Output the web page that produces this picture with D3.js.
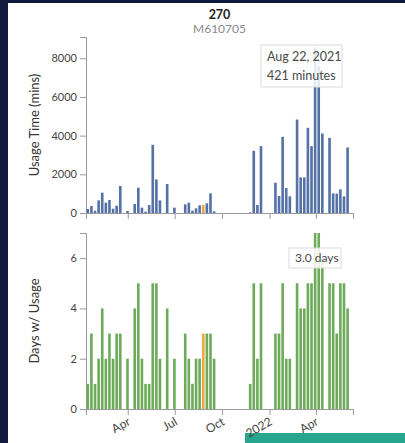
<!DOCTYPE html>
<html>
<head>
<meta charset="utf-8">
<script src="https://cdn.jsdelivr.net/npm/d3@7"></script>
<style>
  body { margin: 0; background: #0f1a3c; }
  svg { display: block; font-family: Lato, "Open Sans", sans-serif; }
  .axis path, .axis line { stroke: #9a9a9a; }
  .axis text { fill: #444; font-size: 11px; font-family: Lato, sans-serif; }
</style>
</head>
<body>
<div id="chart"></div>
<script>
// weekly buckets (weeks start on Sunday)
var firstWeek = new Date(2021, 0, 10);
var lastWeek = new Date(2022, 4, 29);
var weeks = d3.timeWeek.range(firstWeek, d3.timeDay.offset(lastWeek, 1));

// minutes of usage per week
var usageMins = [
  206, 361, 120, 653, 1050, 533, 671, 224, 378, 1393,
  0, 103, 0, 464, 1307, 275, 69, 413, 3525, 1737,
  653, 0, 1497, 0, 275, 0, 0, 447, 533, 120,
  241, 396, 421, 498, 1015, 86, 0, 0, 0, 0,
  0, 0, 0, 0, 0, 30, 3215, 413, 3457, 0,
  0, 0, 1565, 877, 3939, 1290, 860, 0, 4833, 1840,
  1840, 4403, 3457, 8560, 7600, 4110, 0, 3888, 1015, 1000,
  1222, 860, 3388
];
// days with usage per week
var daysUsed = [
  1, 3, 1, 2, 4, 2, 3, 2, 3, 3,
  0, 2, 0, 4, 5, 2, 1, 1, 5, 5,
  2, 0, 4, 0, 2, 0, 0, 3, 2, 1,
  2, 2, 3, 3, 3, 2, 0, 0, 0, 0,
  0, 0, 0, 0, 0, 1, 5, 2, 5, 0,
  0, 0, 3, 3, 5, 2, 2, 0, 5, 4,
  4, 5, 5, 7, 7, 6, 0, 5, 5, 3,
  5, 5, 4
];
var usageTicks = [0, 2000, 4000, 6000, 8000];
var dayTicks = [0, 2, 4, 6];
var usageMax = 9100, daysMax = 7;
var selected = 32; // hovered week
var title = "270", subtitle = "M610705";

var data = weeks.map(function(d, i) {
  return {date: d, mins: usageMins[i], days: daysUsed[i]};
});

var W = 405, H = 443;
var margin = {left: 86, right: 52};
var width = W - margin.left - margin.right;
var plotH = 176;
var topY = 37, botY = 233;

var svg = d3.select("#chart").append("svg")
  .attr("width", W).attr("height", H);

// page background
svg.append("rect").attr("x", 8).attr("y", 3).attr("width", W - 8).attr("height", H - 3).attr("fill", "#ffffff");
svg.append("rect").attr("x", 245).attr("y", 433).attr("width", 160).attr("height", 10).attr("fill", "#27a68d");

// title
svg.append("text").attr("x", margin.left + width / 2).attr("y", 19)
  .attr("text-anchor", "middle").attr("font-size", 12.5).attr("font-weight", "bold").attr("fill", "#222")
  .text(title);
svg.append("text").attr("x", margin.left + width / 2).attr("y", 33)
  .attr("text-anchor", "middle").attr("font-size", 12).attr("fill", "#8a8a8a")
  .text(subtitle);

var x = d3.scaleTime()
  .domain([firstWeek, d3.timeWeek.offset(lastWeek, 2)])
  .range([0, width]);
var xTicks = x.ticks(d3.timeMonth.every(3));
var fmtTick = function(d) { return d.getMonth() === 0 ? d3.timeFormat("%Y")(d) : d3.timeFormat("%b")(d); };

function barWidth(d) { return x(d3.timeWeek.offset(d.date, 1)) - x(d.date) - 1; }

// ---- usage time panel
var g1 = svg.append("g").attr("transform", "translate(" + margin.left + "," + topY + ")");
var y1 = d3.scaleLinear().domain([0, usageMax]).range([plotH, 0]);

g1.append("g").attr("class", "axis")
  .attr("transform", "translate(0," + plotH + ")")
  .call(d3.axisBottom(x).tickValues(xTicks).tickFormat(""));
g1.append("g").attr("class", "axis")
  .call(d3.axisLeft(y1).tickValues(usageTicks).tickFormat(d3.format("d")));

g1.selectAll(".bar")
  .data(data)
  .enter()
  .append("rect")
  .attr("x", function(d) { return x(d.date) + 0.5; })
  .attr("y", function(d) { return y1(d.mins); })
  .attr("width", barWidth)
  .attr("height", function(d) { return plotH - y1(d.mins); })
  .attr("fill", function(d, i) { return i === selected ? "#f2a541" : "#5571a6"; });

svg.append("text")
  .attr("transform", "translate(38.5," + (topY + plotH / 2) + ") rotate(-90)")
  .attr("text-anchor", "middle").attr("font-size", 13).attr("fill", "#333")
  .text("Usage Time (mins)");

// tooltip top
var tip1 = g1.append("g").attr("transform", "translate(" + (width - 92) + ",8)");
tip1.append("rect").attr("width", 81).attr("height", 42)
  .attr("fill", "rgba(255,255,255,0.85)").attr("stroke", "#dcdcdc");
tip1.append("text").attr("x", 6).attr("y", 16).attr("font-size", 12.5).attr("fill", "#4a4a4a")
  .text(d3.timeFormat("%b %d, %Y")(data[selected].date));
tip1.append("text").attr("x", 6).attr("y", 35).attr("font-size", 12.5).attr("fill", "#4a4a4a")
  .text(data[selected].mins + " minutes");

// ---- days with usage panel
var g2 = svg.append("g").attr("transform", "translate(" + margin.left + "," + botY + ")");
var y2 = d3.scaleLinear().domain([0, daysMax]).range([plotH, 0]);

g2.append("g").attr("class", "axis")
  .attr("transform", "translate(0," + plotH + ")")
  .call(d3.axisBottom(x).tickValues(xTicks).tickFormat(fmtTick))
  .selectAll("text")
    .attr("y", 0).attr("dy", 0)
    .attr("transform", "translate(3,15) rotate(-30)")
    .style("text-anchor", "end")
    .style("font-size", "12px");
g2.append("g").attr("class", "axis")
  .call(d3.axisLeft(y2).tickValues(dayTicks).tickFormat(d3.format("d")));

g2.selectAll(".bar")
  .data(data)
  .enter()
  .append("rect")
  .attr("x", function(d) { return x(d.date) + 0.5; })
  .attr("y", function(d) { return y2(d.days); })
  .attr("width", barWidth)
  .attr("height", function(d) { return plotH - y2(d.days); })
  .attr("fill", function(d, i) { return i === selected ? "#f2a541" : "#6dab5b"; });

svg.append("text")
  .attr("transform", "translate(38.5," + (botY + plotH / 2) + ") rotate(-90)")
  .attr("text-anchor", "middle").attr("font-size", 13).attr("fill", "#333")
  .text("Days w/ Usage");

// tooltip bottom
var tip2 = g2.append("g").attr("transform", "translate(" + (width - 64) + ",15)");
tip2.append("rect").attr("width", 52).attr("height", 20)
  .attr("fill", "rgba(255,255,255,0.85)").attr("stroke", "#dcdcdc");
tip2.append("text").attr("x", 6).attr("y", 14).attr("font-size", 12).attr("fill", "#4a4a4a")
  .text(data[selected].days.toFixed(1) + " days");
</script>
</body>
</html>
